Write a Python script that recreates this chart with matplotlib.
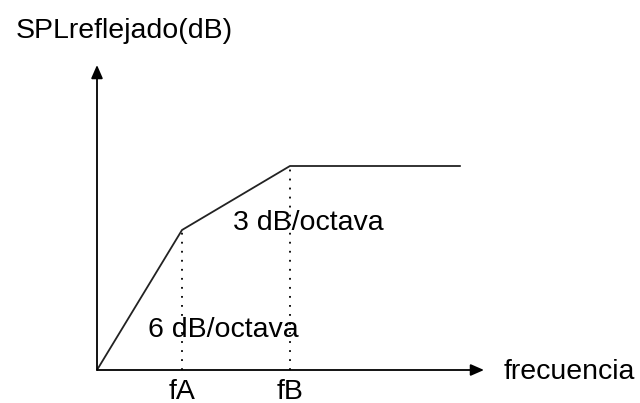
import matplotlib
matplotlib.use("Agg")
import matplotlib.pyplot as plt

plt.rcParams['font.family'] = ['Liberation Sans', 'DejaVu Sans']

# corner frequencies (fA = 1) and level of the response curve
freq = [0.0, 1.0, 2.27, 4.28]
spl = [0.0, 14.0, 20.4, 20.4]
corner_labels = ['fA', 'fB']
slope_labels = ['6 dB/octava', '3 dB/octava']

W, H = 640, 403
fig = plt.figure(figsize=(W / 100, H / 100), dpi=100)
# origin at pixel (97, 370), x arrow to 484, y arrow to 65
ax = fig.add_axes([97 / W, (H - 370) / H, (484 - 97) / W, (370 - 65) / H])
ax.set_xlim(0, 4.553)
ax.set_ylim(0, 30.5)
ax.axis('off')

# axes with arrow heads
arrow = dict(arrowstyle='-|>,head_length=0.8,head_width=0.35', color='black', lw=1.3,
             shrinkA=0, shrinkB=0)
ax.annotate('', xy=(4.553, 0), xytext=(0, 0), arrowprops=arrow, annotation_clip=False)
ax.annotate('', xy=(0, 30.5), xytext=(0, 0), arrowprops=arrow, annotation_clip=False)

# response curve
ax.plot(freq, spl, color='#222222', lw=1.3, solid_capstyle='butt', clip_on=False)

fs = 20.5
# dotted guides at the corners
for f, s, lab in zip(freq[1:3], spl[1:3], corner_labels):
    ax.plot([f, f], [0, s], color='black', lw=1.3, linestyle=(0, (1, 4)), clip_on=False)
    ax.text(f, -2.9, lab, ha='center', va='baseline', fontsize=fs)

ax.text(0.60, 3.3, slope_labels[0], ha='left', va='baseline', fontsize=fs)
ax.text(1.60, 14.0, slope_labels[1], ha='left', va='baseline', fontsize=fs)

fig.text(504 / W, 1 - 379 / H, 'frecuencia', ha='left', va='baseline', fontsize=fs)
fig.text(16 / W, 1 - 38 / H, 'SPLreflejado(dB)', ha='left', va='baseline', fontsize=fs)

fig.savefig('out.png', dpi=100)
